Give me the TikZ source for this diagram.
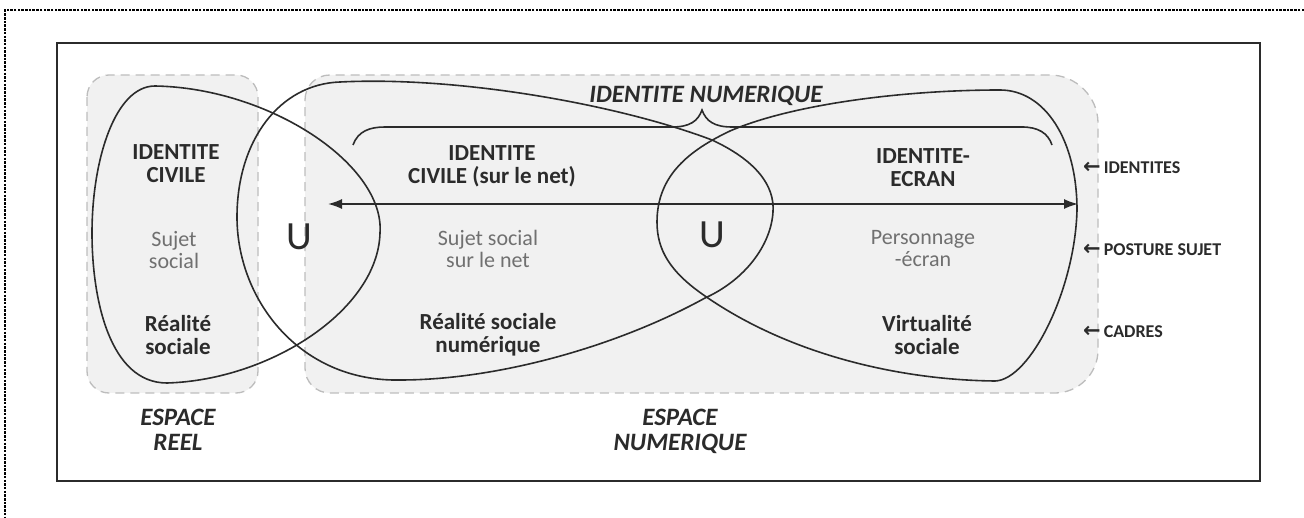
\documentclass[tikz,border=0pt]{standalone}
\usepackage{fontspec}
\setmainfont{Carlito}
\newfontfamily\arrowfont{DejaVu Sans}
\usetikzlibrary{arrows.meta}
\definecolor{zone}{HTML}{F1F1F1}
\definecolor{zoneline}{HTML}{BDBDBD}
\definecolor{ink}{HTML}{2B2B2B}
\definecolor{soft}{HTML}{707070}
\tikzset{
 zonebox/.style={fill=zone, draw=zoneline, line width=1.3pt, dash pattern=on 9pt off 6pt},
 blob/.style={draw=ink, line width=1.6pt},
 boldlbl/.style={font=\fontsize{23}{23}\selectfont\bfseries, text=ink, align=center, inner sep=0pt},
 softlbl/.style={font=\fontsize{22}{22}\selectfont, text=soft, align=center, inner sep=0pt},
 titlelbl/.style={font=\fontsize{25}{25}\selectfont\bfseries\itshape, text=ink, align=center, inner sep=0pt},
 sidelbl/.style={font=\fontsize{18}{20}\selectfont\bfseries, text=ink, anchor=west, inner sep=0pt},
 cupsign/.style={font=\fontsize{40}{40}\selectfont, text=ink, inner sep=0pt},
 dotframe/.style={draw=black, line width=2pt, dash pattern=on 2.5pt off 1.2pt},
 frame/.style={draw=ink, line width=2.2pt},
}
\newcommand{\sidearrow}{{\arrowfont\bfseries\fontsize{21}{21}\selectfont ←}}
\begin{document}
\begin{tikzpicture}[x=1pt,y=-1pt]
\useasboundingbox (0,0) rectangle (1304,518);
\fill[white] (0,0) rectangle (1304,518);
% outer dotted frame (top and left visible)
\draw[dotframe] (1304,10) -- (5,10) -- (5,518);
% inner frame
\draw[frame] (57,43) rectangle (1260,481);
% zones
\draw[zonebox, rounded corners=22pt] (87,75) rectangle (258,393);
\draw[zonebox] (305,100) .. controls (305,86) and (316,75) .. (330,75) -- (1050,75)
  .. controls (1076,75) and (1098,97) .. (1098,123) -- (1098,350)
  .. controls (1098,374) and (1078,393) .. (1055,393) -- (330,393)
  .. controls (316,393) and (305,382) .. (305,368) -- cycle;
% shape 1: identite civile
\draw[blob] (155,86) .. controls (270,88) and (385,165) .. (380,233)
  .. controls (378,310) and (270,380) .. (167,383)
  .. controls (110,383) and (92,300) .. (92,233)
  .. controls (92,160) and (115,86) .. (155,86) -- cycle;
% shape 2: identite civile sur le net
\draw[blob] (237,217) .. controls (237,140) and (280,84) .. (340,82)
  .. controls (460,76) and (620,105) .. (712,140)
  .. controls (755,160) and (775,185) .. (773,212)
  .. controls (771,245) and (745,280) .. (705,298)
  .. controls (620,345) and (500,380) .. (400,380)
  .. controls (300,382) and (237,300) .. (237,217) -- cycle;
% shape 3: identite-ecran
\draw[blob] (657,222) .. controls (657,175) and (690,150) .. (730,131)
  .. controls (790,105) and (900,90) .. (1000,90)
  .. controls (1045,90) and (1077,140) .. (1077,210)
  .. controls (1075,290) and (1030,380) .. (995,381)
  .. controls (900,380) and (790,355) .. (705,296)
  .. controls (670,272) and (657,250) .. (657,222) -- cycle;
% brace
\draw[blob] (353,145) .. controls (358,131) and (370,127) .. (385,127) -- (672,127)
  .. controls (690,127) and (698,121) .. (702,110)
  .. controls (706,121) and (714,127) .. (732,127) -- (1022,127)
  .. controls (1038,127) and (1048,133) .. (1052,145);
% double arrow
\coordinate (aL) at (328,204);
\coordinate (aR) at (1078,204);
\draw[blob, {Latex[length=14pt,width=10pt]}-{Latex[length=14pt,width=10pt]}] (aL) -- (aR);
% texts
\node[titlelbl] (numtitle) at (706,96) {IDENTITE NUMERIQUE};
\node[boldlbl] (civ) at (176,164) {IDENTITE\\CIVILE};
\node[softlbl] (suj) at (174,250) {Sujet\\social};
\node[boldlbl] (real) at (178,335) {Réalité\\sociale};
\node[cupsign] (cup1) at (299,237) {U};
\node[boldlbl] (civnet) at (492,166) {IDENTITE\\CIVILE (sur le net)};
\node[softlbl] (sujnet) at (488,249) {Sujet social\\sur le net};
\node[cupsign] (cup2) at (712,235) {U};
\node[boldlbl] (realnum) at (488,335) {Réalité sociale\\numérique};
\node[boldlbl] (ecran) at (923,168) {IDENTITE-\\ECRAN};
\node[softlbl] (perso) at (923,249) {Personnage\\-écran};
\node[boldlbl] (virt) at (927,335) {Virtualité\\sociale};
\node[sidelbl] (sid1) at (1083,168) {\sidearrow\,IDENTITES};
\node[sidelbl] (sid2) at (1083,250) {\sidearrow\,POSTURE SUJET};
\node[sidelbl] (sid3) at (1083,332) {\sidearrow\,CADRES};
\node[titlelbl] (esreel) at (178,430) {ESPACE\\REEL};
\node[titlelbl] (esnum) at (680,431) {ESPACE\\NUMERIQUE};
\end{tikzpicture}
\end{document}
